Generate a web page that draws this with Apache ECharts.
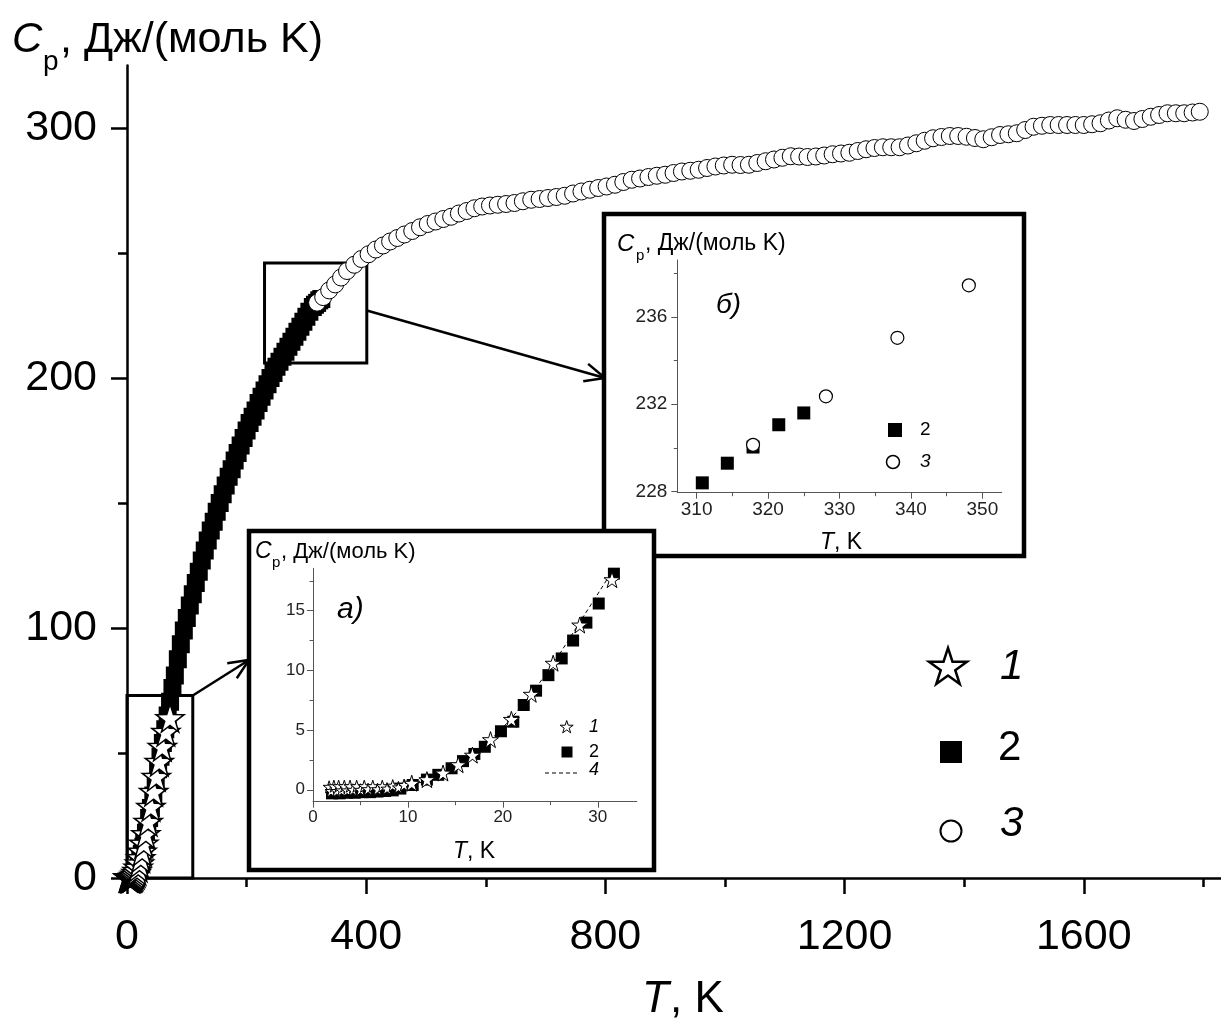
<!DOCTYPE html>
<html>
<head>
<meta charset="utf-8">
<script src="https://cdn.jsdelivr.net/npm/echarts@6/dist/echarts.min.js"></script>
<style>
  html, body { margin: 0; padding: 0; background: #fff; }
  #chart { width: 1221px; height: 1029px; }
</style>
</head>
<body>
<div id="chart"></div>
<script>
// ---- Heat capacity data, [T (K), Cp (J/(mol K))] ----

// 1: low-temperature measurements (stars)
const series1Stars = [
  [1.7, 0.25], [1.9, -0.1], [2.2, 0.3], [2.5, -0.1], [2.7, 0.3], [3.0, -0.05],
  [3.3, 0.3], [3.6, -0.05], [3.9, 0.3], [4.2, 0.0], [4.6, 0.3], [5.0, 0.0],
  [5.4, 0.3], [5.8, 0.05], [6.3, 0.3], [6.8, 0.05], [7.3, 0.3], [7.8, 0.1],
  [8.4, 0.35], [9.0, 0.2], [9.6, 0.4],
  [10.4, 0.55], [12.0, 0.85], [13.7, 1.4], [15.3, 2.1], [16.8, 2.9], [18.7, 4.2],
  [20.9, 5.9], [23.0, 8.0], [25.3, 10.6], [28.1, 13.8], [31.5, 17.6],
  [35.5, 22.5], [40, 28.5], [44.5, 34.5], [49, 40.5], [54, 46.5], [59, 52.5],
  [65, 58.5], [72, 64]
];

// 2: adiabatic calorimetry (filled squares)
const series2Squares = [
  [2.0, -0.3], [2.8, -0.3], [3.6, -0.25], [4.4, -0.25], [5.2, -0.2], [6.0, -0.2],
  [6.8, -0.15], [7.6, -0.1], [8.4, -0.05], [9.2, 0.1], [10.5, 0.4], [12.0, 0.85],
  [13.2, 1.25], [14.6, 1.8], [15.8, 2.4], [17.0, 3.0], [18.1, 3.6], [19.8, 4.9],
  [21.1, 5.7], [22.2, 7.1], [23.5, 8.3], [24.8, 9.6], [26.2, 11.0], [27.4, 12.5],
  [28.8, 14.0], [30.1, 15.6], [31.7, 18.1],
  [34, 20.5], [37, 24], [40, 28], [44, 33], [48, 38.5], [52, 43.5], [56, 48.5],
  [60, 54], [64, 59.5], [68, 65], [72, 70.5], [76, 76], [80, 81], [85, 87.5],
  [90, 93.5], [95, 99], [100, 104], [105, 109], [110, 113.5], [115, 118],
  [120, 122.5], [125, 127], [130, 131], [135, 135], [140, 139], [145, 142.5],
  [150, 146.5], [155, 150], [160, 153.5], [165, 157], [170, 160.5], [175, 163.5],
  [180, 167], [185, 170], [190, 173], [195, 176], [200, 179], [205, 182],
  [210, 184.5], [215, 187], [220, 190], [225, 192.5], [230, 195], [235, 197.5],
  [240, 200], [245, 202], [250, 204.5], [255, 206.5], [260, 208.5], [265, 210.5],
  [270, 212.5], [275, 214.5], [280, 216.5], [285, 218.5], [290, 220.5], [295, 222.5],
  [300, 224.5], [305, 226.5], [310.8, 228.4], [314.3, 229.3], [317.9, 230.04],
  [321.5, 231.06], [325.0, 231.6]
];

// 3: high-temperature data (open circles)
const series3Circles = [
  [317.9, 230.14], [328.1, 232.36], [338.1, 235.04], [348.1, 237.44], [358, 240.2],
  [368, 242.8], [380, 245.3], [392, 247.6], [404, 249.5], [416, 251.4], [428, 253.0],
  [440, 254.6], [452, 256.0], [464, 257.4], [477, 258.8], [490, 260.3], [503, 261.6],
  [516, 262.6], [529, 263.6], [542, 264.5], [555, 265.8], [568, 266.8], [581, 267.9],
  [594, 268.6], [607, 269.0], [620, 269.3], [634, 269.6], [648, 270.0], [662, 270.7],
  [676, 271.3], [690, 271.6], [704, 272.0], [718, 272.4], [732, 272.9], [746, 273.8],
  [760, 274.6], [774, 275.3], [788, 276.0], [802, 276.6], [816, 277.3], [830, 278.4],
  [844, 279.3], [858, 279.8], [872, 280.4], [886, 280.9], [900, 281.3], [914, 282.0],
  [928, 282.6], [942, 282.9], [956, 283.3], [970, 284.0], [984, 284.6], [998, 285.0],
  [1012, 285.3], [1026, 285.2], [1040, 285.3], [1054, 286.0], [1068, 286.7],
  [1082, 287.4], [1096, 288.1], [1110, 288.7], [1124, 288.6], [1138, 288.4],
  [1152, 288.6], [1166, 289.0], [1180, 289.5], [1194, 289.8], [1208, 290.1],
  [1222, 290.8], [1236, 291.5], [1250, 292.0], [1264, 292.3], [1278, 292.3],
  [1292, 292.3], [1306, 293.0], [1320, 293.9], [1334, 294.9], [1348, 295.9],
  [1362, 296.4], [1376, 296.8], [1390, 296.8], [1404, 296.5], [1418, 296.0],
  [1432, 295.5], [1446, 296.3], [1460, 297.2], [1474, 297.5], [1488, 297.9],
  [1502, 299.2], [1516, 300.5], [1530, 300.9], [1544, 301.2], [1558, 301.2],
  [1572, 301.2], [1586, 301.2], [1600, 301.2], [1614, 301.5], [1628, 301.9],
  [1642, 303.0], [1656, 303.9], [1670, 303.3], [1684, 302.8], [1698, 303.6],
  [1712, 304.5], [1726, 305.2], [1740, 305.9], [1754, 305.9], [1768, 305.9],
  [1782, 306.2], [1794, 306.5]
];

// 4: low-temperature fit (dashed line)
const fit4Line = [
  [1.5, 0], [4, 0.02], [6, 0.06], [8, 0.15], [10, 0.35], [12, 0.75], [14, 1.4],
  [16, 2.35], [18, 3.65], [20, 5.2], [22, 7.0], [24, 9.1], [26, 11.4], [28, 13.9],
  [30, 16.4], [32, 18.9]
];

// ---- Tick values ----
const mainXTicks = [0, 400, 800, 1200, 1600];
const mainXMinor = [200, 600, 1000, 1400, 1800];
const mainYTicks = [0, 100, 200, 300];
const mainYMinor = [50, 150, 250];
const insetAXTicks = [0, 10, 20, 30];
const insetAXMinor = [5, 15, 25];
const insetAYTicks = [0, 5, 10, 15];
const insetAYMinor = [2.5, 7.5, 12.5, 17.5];
const insetBXTicks = [310, 320, 330, 340, 350];
const insetBXMinor = [315, 325, 335, 345];
const insetBYTicks = [228, 232, 236];
const insetBYMinor = [230, 234, 238];

// zoom frames drawn on the main plot, in data units
const zoomBoxA = [[0, 0], [110, 73]];
const zoomBoxB = [[230, 206], [401, 246]];

const FONT = '"Liberation Sans", Arial, Helvetica, sans-serif';
const STAR = 'path://M50,2 L61.2,36.3 L97.6,36.5 L68.2,57.9 L79.4,92.5 L50,71.2 L20.6,92.5 L31.8,57.9 L2.4,36.5 L38.8,36.3 Z';
const STAR_PTS = [[50, 2], [61.2, 36.3], [97.6, 36.5], [68.2, 57.9], [79.4, 92.5], [50, 71.2],
  [20.6, 92.5], [31.8, 57.9], [2.4, 36.5], [38.8, 36.3]];

// star outline for the legend keys, fitted into a box centred on (cx, cy)
function starPolygon(cx, cy, size, lineWidth, z) {
  const pts = STAR_PTS.map(p => [cx + ((p[0] - 50) / 95.2) * size, cy + ((p[1] - 47.25) / 90.5) * size * 0.95]);
  return { type: 'polygon', z, shape: { points: pts }, style: { fill: '#fff', stroke: '#000', lineWidth } };
}

// primary axis (line, major ticks, labels) plus a tick-only axis for minor ticks
function makeAxes(gridIndex, position, min, max, major, minor, s) {
  const common = { type: 'value', gridIndex, position, min, max, z: s.z, splitLine: { show: false }, offset: 0 };
  return [
    Object.assign({}, common, {
      axisLine: { show: true, onZero: false, lineStyle: { color: s.color, width: s.lineWidth } },
      axisTick: { show: true, inside: false, length: s.major, customValues: major,
        lineStyle: { color: s.color, width: s.tickWidth } },
      axisLabel: { show: true, customValues: major, margin: s.margin, fontSize: s.fontSize,
        fontFamily: FONT, color: s.labelColor, formatter: (v) => String(v) }
    }),
    Object.assign({}, common, {
      axisLine: { show: false, onZero: false },
      axisTick: { show: true, inside: false, length: s.minor, customValues: minor,
        lineStyle: { color: s.color, width: s.tickWidth } },
      axisLabel: { show: false }
    })
  ];
}

const mainX = { z: 1, color: '#000', lineWidth: 2.5, tickWidth: 2.5, major: 16, minor: 9, margin: 38, fontSize: 43, labelColor: '#000' };
const mainY = Object.assign({}, mainX, { margin: 30 });
const bX = { z: 11, color: '#555', lineWidth: 1, tickWidth: 1, major: 6, minor: 3.5, margin: 8, fontSize: 19, labelColor: '#222' };
const bY = Object.assign({}, bX, { margin: 10 });
const aX = { z: 21, color: '#555', lineWidth: 1, tickWidth: 1, major: 6, minor: 3.5, margin: 7, fontSize: 17, labelColor: '#222' };
const aY = Object.assign({}, aX, { margin: 8 });

const xAxes = [].concat(
  makeAxes(0, 'bottom', 0, 1830, mainXTicks, mainXMinor, mainX),
  makeAxes(1, 'bottom', 307.3, 352.7, insetBXTicks, insetBXMinor, bX),
  makeAxes(2, 'bottom', 0, 34.1, insetAXTicks, insetAXMinor, aX)
);
const yAxes = [].concat(
  makeAxes(0, 'left', 0, 325, mainYTicks, mainYMinor, mainY),
  makeAxes(1, 'left', 227.95, 238.6, insetBYTicks, insetBYMinor, bY),
  makeAxes(2, 'left', -1, 18.55, insetAYTicks, insetAYMinor, aY)
);

function txt(x, y, text, size, italic, z, color) {
  return {
    type: 'text', x, y, z, silent: true,
    style: {
      text, fill: color || '#000',
      font: (italic ? 'italic ' : '') + size + 'px ' + FONT,
      textAlign: 'left', textVerticalAlign: 'middle'
    }
  };
}

const graphics = [
  // axis titles of the main plot
  txt(12, 40, 'C', 42, true, 5), txt(43, 62, 'p', 28, false, 5), txt(60, 40, ', Дж/(моль K)', 43, false, 5),
  txt(642, 1000, 'T', 44, true, 5), txt(670, 1000, ', K', 44, false, 5),
  // main legend
  starPolygon(948, 666, 38, 2.5, 5),
  txt(1000, 667, '1', 42, true, 5),
  { type: 'rect', z: 5, shape: { x: 940, y: 741, width: 22, height: 22 }, style: { fill: '#000' } },
  txt(998, 748, '2', 42, false, 5),
  { type: 'circle', z: 5, shape: { cx: 951, cy: 831, r: 10.5 }, style: { fill: '#fff', stroke: '#000', lineWidth: 2 } },
  txt(1000, 824, '3', 42, true, 5),

  // inset б frame and texts
  { type: 'rect', z: 10, shape: { x: 604, y: 214, width: 420, height: 342 },
    style: { fill: '#fff', stroke: '#000', lineWidth: 4.5 } },
  txt(617, 244, 'C', 24, true, 11), txt(636, 256, 'p', 15, false, 11), txt(645, 244, ', Дж/(моль K)', 23, false, 11),
  txt(716, 305, 'б)', 28, true, 11),
  txt(820, 543, 'T', 23, true, 11), txt(834, 543, ', K', 23, false, 11),
  { type: 'rect', z: 14, shape: { x: 888, y: 423, width: 14, height: 14 }, style: { fill: '#000' } },
  txt(920, 430, '2', 19, false, 14),
  { type: 'circle', z: 14, shape: { cx: 893, cy: 462, r: 6.5 }, style: { fill: '#fff', stroke: '#000', lineWidth: 1.5 } },
  txt(920, 462, '3', 19, true, 14),

  // inset а frame and texts
  { type: 'rect', z: 20, shape: { x: 249, y: 531, width: 405, height: 339 },
    style: { fill: '#fff', stroke: '#000', lineWidth: 4.5 } },
  txt(255, 552, 'C', 23, true, 21), txt(272, 563, 'p', 15, false, 21), txt(281, 552, ', Дж/(моль K)', 22, false, 21),
  txt(337, 610, 'а)', 30, true, 21),
  txt(453, 852, 'T', 23, true, 21), txt(467, 852, ', K', 23, false, 21),
  starPolygon(566.7, 726.7, 13, 1, 24),
  txt(589, 727, '1', 18, true, 24),
  { type: 'rect', z: 24, shape: { x: 561.5, y: 746.5, width: 11, height: 11 }, style: { fill: '#000' } },
  txt(589, 752, '2', 18, false, 24),
  { type: 'line', z: 24, shape: { x1: 545, y1: 773, x2: 578, y2: 773 },
    style: { stroke: '#000', lineWidth: 1.2, lineDash: [4, 3] } },
  txt(589, 770, '4', 18, true, 24)
];

const option = {
  animation: false,
  backgroundColor: '#fff',
  grid: [
    { left: 127, top: 65.5, width: 1094.3, height: 812.5, outerBoundsMode: 'none', containLabel: false },
    { left: 677.3, top: 260, width: 324.4, height: 232.7, outerBoundsMode: 'none', containLabel: false, z: 11 },
    { left: 313, top: 568.3, width: 323.7, height: 233.4, outerBoundsMode: 'none', containLabel: false, z: 21 }
  ],
  xAxis: xAxes,
  yAxis: yAxes,
  graphic: { elements: graphics },
  series: [
    // main plot
    { name: '2', type: 'scatter', xAxisIndex: 0, yAxisIndex: 0, z: 2, data: series2Squares,
      symbol: 'rect', symbolSize: 18, itemStyle: { color: '#000', opacity: 1 },
      markArea: { silent: true, itemStyle: { color: 'rgba(0,0,0,0)', borderColor: '#000', borderWidth: 3, opacity: 1 },
        data: [
          [{ coord: zoomBoxA[0] }, { coord: zoomBoxA[1] }],
          [{ coord: zoomBoxB[0] }, { coord: zoomBoxB[1] }]
        ] } },
    { name: '3', type: 'scatter', xAxisIndex: 0, yAxisIndex: 0, z: 3, data: series3Circles,
      symbol: 'circle', symbolSize: 17, itemStyle: { color: '#fff', borderColor: '#000', borderWidth: 1, opacity: 1 } },
    { name: '1', type: 'scatter', xAxisIndex: 0, yAxisIndex: 0, z: 4, data: series1Stars,
      symbol: STAR, symbolSize: 28, itemStyle: { color: '#fff', borderColor: '#000', borderWidth: 1.5, opacity: 1 } },

    // inset б
    { name: '2', type: 'scatter', xAxisIndex: 2, yAxisIndex: 2, z: 12, data: series2Squares,
      symbol: 'rect', symbolSize: 13, itemStyle: { color: '#000', opacity: 1 } },
    { name: '3', type: 'scatter', xAxisIndex: 2, yAxisIndex: 2, z: 13, data: series3Circles,
      symbol: 'circle', symbolSize: 13, itemStyle: { color: '#fff', borderColor: '#000', borderWidth: 1.2, opacity: 1 } },

    // inset а
    { name: '4', type: 'line', xAxisIndex: 4, yAxisIndex: 4, z: 21, data: fit4Line, showSymbol: false,
      symbol: 'none', lineStyle: { color: '#000', width: 1, type: [4, 3] } },
    { name: '2', type: 'scatter', xAxisIndex: 4, yAxisIndex: 4, z: 22, data: series2Squares,
      symbol: 'rect', symbolSize: 12, itemStyle: { color: '#000', opacity: 1 } },
    { name: '1', type: 'scatter', xAxisIndex: 4, yAxisIndex: 4, z: 23, data: series1Stars,
      symbol: STAR, symbolSize: (v) => (v[0] < 10 ? 12 : 16),
      itemStyle: { color: '#fff', borderColor: '#000', borderWidth: 1, opacity: 1 } }
  ]
};

const chart = echarts.init(document.getElementById('chart'), null, { renderer: 'canvas' });
chart.setOption(option);

// arrows from the zoom frames to the insets
function arrow(id, from, to) {
  const dx = to[0] - from[0], dy = to[1] - from[1];
  const ang = Math.atan2(dy, dx), len = 22, spread = 0.42;
  const h1 = [to[0] - len * Math.cos(ang - spread), to[1] - len * Math.sin(ang - spread)];
  const h2 = [to[0] - len * Math.cos(ang + spread), to[1] - len * Math.sin(ang + spread)];
  return [
    { id: id + '-shaft', type: 'polyline', z: 6, shape: { points: [from, to] },
      style: { stroke: '#000', lineWidth: 2.5, fill: null } },
    { id: id + '-head', type: 'polyline', z: 6, shape: { points: [h1, to, h2] },
      style: { stroke: '#000', lineWidth: 2.5, fill: null } }
  ];
}
const cornerA = chart.convertToPixel({ xAxisIndex: 0, yAxisIndex: 0 }, [zoomBoxA[1][0], zoomBoxA[1][1]]);
const sideB = chart.convertToPixel({ xAxisIndex: 0, yAxisIndex: 0 }, [zoomBoxB[1][0], 227]);
chart.setOption({
  graphic: { elements: arrow('arrowA', cornerA, [249, 660]).concat(arrow('arrowB', sideB, [605, 378])) }
});
</script>
</body>
</html>
